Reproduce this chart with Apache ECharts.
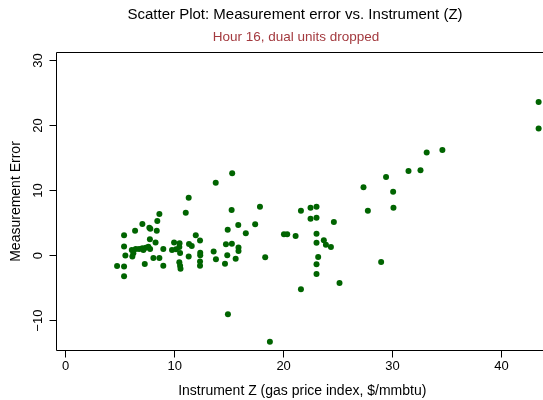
<!DOCTYPE html>
<html>
<head>
<meta charset="utf-8">
<script src="https://cdn.jsdelivr.net/npm/echarts@6/dist/echarts.min.js"></script>
<style>
  html, body { margin: 0; padding: 0; background: #fff; }
  #chart { width: 543px; height: 400px; }
</style>
</head>
<body>
<div id="chart"></div>
<script>
// instrument Z (gas price index) for each unit
const instrumentZ = [
  4.72, 5.36, 5.36, 5.36, 5.36, 5.48, 6.07, 6.21, 6.12, 6.43,
  6.74, 7.04, 7.35, 7.59, 7.75, 7.13, 6.37, 7.04, 7.26, 7.68,
  7.77, 7.73, 8.36, 8.41, 8.60, 8.25, 8.05, 8.60, 8.96, 8.96,
  9.95, 9.76, 10.45, 10.43, 10.13, 10.50, 10.43, 10.50, 10.54, 11.02,
  11.29, 11.32, 11.57, 11.29, 11.94, 12.33, 12.35, 12.35, 12.33, 12.33,
  13.77, 15.28, 15.23, 15.84, 14.87, 14.71, 15.25, 13.58, 13.79, 14.83,
  15.60, 14.62, 15.86, 15.86, 14.89, 17.83, 17.39, 16.53, 18.31, 18.74,
  20.03, 20.33, 21.10, 21.59, 22.47, 23.02, 22.47, 23.02, 24.61, 23.02,
  23.02, 23.69, 23.88, 24.34, 23.17, 23.02, 23.02, 25.13, 21.59, 27.33,
  27.73, 28.95, 29.40, 30.05, 30.08, 31.46, 32.56, 33.13, 34.57, 43.40,
  43.40
]
// measurement error for the same units
const measurementError = [
  -1.58, -1.66, -3.19, 3.15, 1.40, 0.02, 0.88, 0.37, -0.15, 1.03,
  1.03, 1.14, 1.23, 1.38, 1.03, 0.88, 3.84, 4.87, -1.27, 4.30,
  4.15, 2.52, 3.84, 5.33, 6.41, 2.03, -0.38, -0.38, 1.03, -1.55,
  2.03, 0.88, 1.92, 1.34, 0.98, 0.41, -1.01, -1.54, -2.01, 6.61,
  8.91, 1.80, 1.49, -0.15, 3.15, 2.33, 0.46, 0.06, -0.89, -1.55,
  11.21, 12.66, 7.02, 4.72, 3.99, 1.75, 1.83, 0.65, -0.54, 0.06,
  -0.48, -1.23, 1.26, 0.72, -9.00, 7.53, 4.82, 3.44, -0.23, -13.23,
  3.29, 3.29, 3.03, 6.91, 7.37, 7.53, 5.68, 5.84, 5.18, 3.38,
  2.00, 2.37, 1.69, 1.34, -0.20, -1.32, -2.81, -4.19, -5.16, 10.51,
  6.91, -0.97, 12.09, 9.83, 7.37, 13.01, 13.12, 15.88, 16.24, 23.61,
  19.57
]
const xTicks = [0, 10, 20, 30, 40]
const yTicks = [-10, 0, 10, 20, 30]

const fontFamily = '"Liberation Sans", Arial, sans-serif'
const chart = echarts.init(document.getElementById('chart'), null, { renderer: 'canvas' })

const option = {
  backgroundColor: '#fff',
  animation: false,
  title: [{
    text: 'Scatter Plot: Measurement error vs. Instrument (Z)',
    left: 290,
    top: 2,
    textAlign: 'center',
    textStyle: { fontFamily, fontSize: 15, fontWeight: 'normal', color: '#000' }
  }, {
    text: 'Hour 16, dual units dropped',
    left: 291,
    top: 25,
    textAlign: 'center',
    textStyle: { fontFamily, fontSize: 13.5, fontWeight: 'normal', color: '#a33a3f' }
  }],
  grid: {
    left: 56.5,
    top: 52.5,
    width: 491.5,
    height: 298,
    outerBoundsMode: 'none',
    containLabel: false,
    show: true,
    borderColor: '#000',
    borderWidth: 1,
    backgroundColor: 'transparent'
  },
  xAxis: {
    type: 'value',
    min: -0.84,
    max: 44.26,
    name: 'Instrument Z (gas price index, $/mmbtu)',
    nameLocation: 'middle',
    nameGap: 34,
    nameTextStyle: { fontFamily, fontSize: 14, color: '#000' },
    axisLine: { show: false, onZero: false },
    axisTick: {
      show: true,
      length: 7,
      customValues: xTicks,
      lineStyle: { color: '#000' }
    },
    axisLabel: {
      customValues: xTicks,
      margin: 9,
      fontFamily,
      fontSize: 13,
      color: '#000'
    },
    splitLine: { show: false }
  },
  yAxis: {
    type: 'value',
    min: -14.59,
    max: 31.24,
    name: 'Measurement Error',
    nameLocation: 'middle',
    nameGap: 32,
    nameRotate: 90,
    nameTextStyle: { fontFamily, fontSize: 14, color: '#000' },
    axisLine: { show: false, onZero: false },
    axisTick: {
      show: true,
      length: 7,
      customValues: yTicks,
      lineStyle: { color: '#000' }
    },
    axisLabel: {
      customValues: yTicks,
      rotate: 90,
      margin: 12,
      fontFamily,
      fontSize: 13,
      color: '#000',
      formatter: (v) => String(v).replace('-', '\u2212')
    },
    splitLine: { show: false }
  },
  series: [{
    type: 'scatter',
    data: instrumentZ.map((z, i) => [z, measurementError[i]]),
    symbol: 'circle',
    symbolSize: 6,
    clip: false,
    itemStyle: { color: '#006400', opacity: 1 }
  }]
}
chart.setOption(option)
</script>
</body>
</html>
